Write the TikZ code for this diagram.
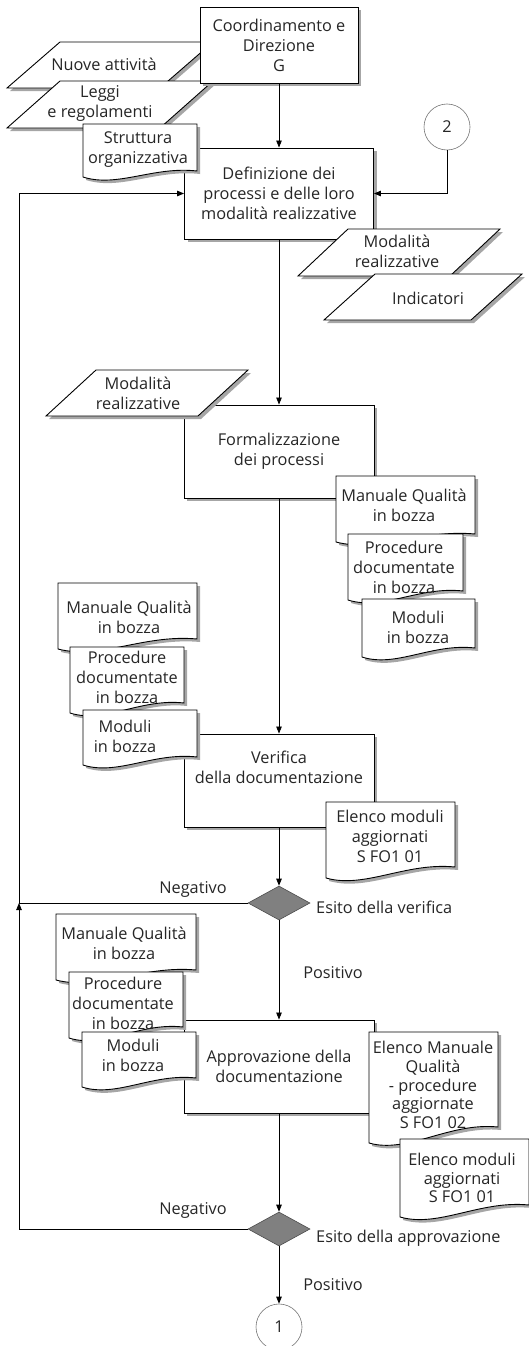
\documentclass[tikz,border=0pt]{standalone}
\usepackage{fontspec}
\setmainfont{Open Sans}
\usetikzlibrary{arrows.meta,shapes.geometric,shadows}

\tikzset{
  txt/.style={font=\fontsize{16.3}{20}\selectfont, text=black!85, align=center, inner sep=0pt},
  tighttxt/.style={font=\fontsize{16.3}{18.6}\selectfont},
  doctext/.style={},
  proc/.style={txt, draw, line width=0.9pt, fill=white, rectangle,
    drop shadow={shadow xshift=3pt, shadow yshift=-3pt, fill=black!35, opacity=1}},
  decision/.style={diamond, draw=black!70, line width=0.6pt, fill=black!50,
    minimum width=62pt, minimum height=34pt, inner sep=0pt},
  connector/.style={txt, circle, draw=black!55, line width=0.6pt, minimum size=46pt},
  conn/.style={line width=0.8pt, -{Triangle[length=7pt,width=5.5pt]}},
  shade/.style={fill=black!35},
  outline/.style={draw, line width=0.9pt, fill=white}
}

% input/output parallelogram: name, top-left x, top y, bottom y, width, slant, text position, text
\newcommand{\iobox}[8]{%
  \fill[shade, shift={(3pt,-3pt)}] (#2,#3) -- ({#2+#5},#3) -- ({#2+#5-#6},#4) -- ({#2-#6},#4) -- cycle;
  \path[outline] (#2,#3) -- ({#2+#5},#3) -- ({#2+#5-#6},#4) -- ({#2-#6},#4) -- cycle;
  \node[txt] (#1) at #7 {#8};
}

% document with wavy bottom: name, left x, top y, right x, left bottom y, right bottom y, text position, text
\newcommand{\docbox}[8]{%
  \fill[shade, shift={(3pt,-3pt)}] (#2,#3) -- (#4,#3) -- (#4,#6)
    .. controls ({#2+0.62*(#4-#2)},{#6-5}) and ({#2+0.3*(#4-#2)},{#5+11}) .. (#2,#5) -- cycle;
  \path[outline] (#2,#3) -- (#4,#3) -- (#4,#6)
    .. controls ({#2+0.62*(#4-#2)},{#6-5}) and ({#2+0.3*(#4-#2)},{#5+11}) .. (#2,#5) -- cycle;
  \node[txt, doctext] (#1) at #7 {#8};
}

\begin{document}
\begin{tikzpicture}[x=1pt,y=-1pt]
\useasboundingbox (0,0) rectangle (528,1346);

% ---- process definition ----
\iobox{nuove}{60}{42}{88}{153}{53}{(104,64)}{Nuove attività}
\iobox{leggi}{60}{81}{128}{153}{53}{(100,103)}{Leggi\\e regolamenti}
\node[proc, minimum width=158pt, minimum height=76pt] (coord) at (279,45) {Coordinamento e\\Direzione\\G};
\node[proc, minimum width=189pt, minimum height=91pt] (def) at (279,193.5) {Definizione dei\\processi e delle loro\\modalità realizzative};
\docbox{strutt}{83}{124}{197}{177}{171}{(138,150)}{Struttura\\organizzativa}
\node[connector] (c2) at (447,127) {2};
\iobox{modR}{348}{229}{276}{152}{50}{(397,251)}{Modalità\\realizzative}
\iobox{ind}{375}{274}{320}{147}{51}{(428,298)}{Indicatori}

% ---- formalisation ----
\node[proc, minimum width=190pt, minimum height=93pt] (form) at (279,451.5) {Formalizzazione\\dei processi};
\iobox{modL}{96}{370}{416}{152}{50}{(138,393)}{Modalità\\realizzative}
\docbox{mqA}{336}{476}{475}{542}{534}{(404,505)}{Manuale Qualità\\in bozza}
\docbox{pdA}{348}{534}{463}{600}{591}{(404,567)}{Procedure\\documentate\\in bozza}
\docbox{moA}{362}{599}{475}{657}{648}{(418,627)}{Moduli\\in bozza}

% ---- verification ----
\node[proc, minimum width=190pt, minimum height=93pt] (ver) at (279,780.5) {Verifica\\della documentazione\\[6pt]};
\docbox{mqB}{58}{583}{197}{649}{639}{(129,617)}{Manuale Qualità\\in bozza}
\docbox{pdB}{70}{647}{184}{713}{703}{(127,677)}{Procedure\\documentate\\in bozza}
\docbox{moB}{83}{710}{197}{765}{757}{(125,736)}{Moduli\\in bozza}
\docbox{emA}{326}{802}{455}{878}{867}{(390,836)}{Elenco moduli\\aggiornati\\S FO1 01}

\node[decision] (d1) at (279,903) {};
\node[txt] (neg1) at (193,889) {Negativo};
\node[txt, anchor=west] (esito1) at (316,907) {Esito della verifica};
\node[txt] (pos1) at (333,973) {Positivo};

% ---- approval ----
\docbox{mqC}{56}{914}{196}{980}{970}{(124,943)}{Manuale Qualità\\in bozza}
\node[proc, minimum width=190pt, minimum height=93pt] (appr) at (279,1066.5) {Approvazione della\\documentazione};
\docbox{pdC}{69}{972}{183}{1038}{1027}{(123,1003)}{Procedure\\documentate\\in bozza}
\docbox{moC}{82}{1032}{196}{1087}{1078}{(133,1055)}{Moduli\\in bozza}
\begin{scope}[doctext/.style={tighttxt}]
\docbox{emq}{369}{1032}{498}{1143}{1127}{(433,1085)}{Elenco Manuale\\Qualità\\- procedure\\aggiornate\\S FO1 02}
\docbox{emB}{400}{1139}{529}{1217}{1205}{(462,1178)}{Elenco moduli\\aggiornati\\S FO1 01}
\end{scope}

\node[decision] (d2) at (279,1229) {};
\node[txt] (neg2) at (193,1210) {Negativo};
\node[txt, anchor=west] (esito2) at (316,1238) {Esito della approvazione};
\node[txt] (pos2) at (333,1285) {Positivo};
\node[connector] (c1) at (279,1327) {1};

% ---- flow ----
\coordinate (j1) at (19,903);
\draw[conn] (coord) -- (def);
\draw[conn] (c2.south) |- (def.east);
\draw[conn] (def) -- (form);
\draw[conn] (form) -- (ver);
\draw[conn] (ver) -- (d1);
\draw[conn] (d1) -- (appr);
\draw[conn] (appr) -- (d2);
\draw[conn] (d2) -- (c1);
\draw[conn] (d1.west) -- (j1) |- (def.west);
\draw[conn] (d2.west) -| (j1);
\end{tikzpicture}
\end{document}
